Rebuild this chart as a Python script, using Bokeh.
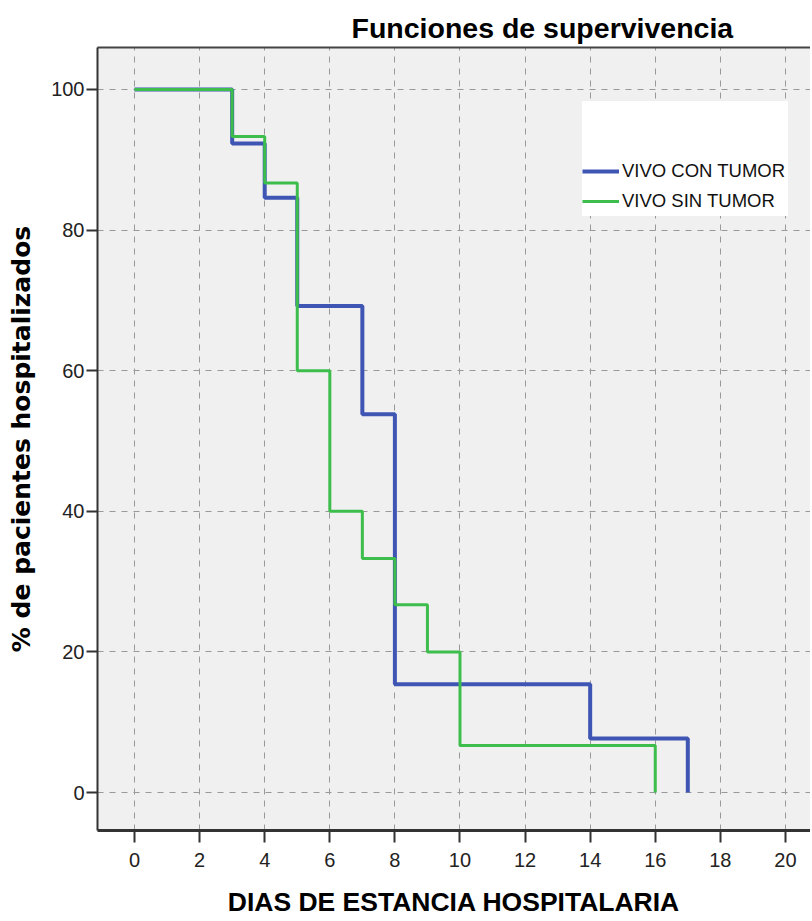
from bokeh.plotting import figure
from bokeh.models import FixedTicker, Legend, LegendItem, Range1d, LinearAxis
from bokeh.embed import file_html
from bokeh.resources import INLINE

# Kaplan-Meier estimates
dias_con = [0, 3, 4, 5, 7, 8, 14, 17]
surv_con = [100, 92.3, 84.6, 69.2, 53.8, 15.4, 7.7, 0]
dias_sin = [0, 3, 4, 5, 6, 7, 8, 9, 10, 16]
surv_sin = [100, 93.3, 86.7, 60, 40, 33.3, 26.7, 20, 6.7, 0]
x_ticks = [0, 2, 4, 6, 8, 10, 12, 14, 16, 18, 20]
y_ticks = [0, 20, 40, 60, 80, 100]
series_names = ["VIVO CON TUMOR", "VIVO SIN TUMOR"]

p = figure(width=810, height=919, output_backend="svg", toolbar_location=None,
           x_range=Range1d(-1.138, 20.77), y_range=Range1d(-5.40, 105.97),
           min_border_left=97, min_border_right=0, min_border_top=47, min_border_bottom=86)

p.background_fill_color = "#f0f0f0"
p.border_fill_color = "white"
p.outline_line_color = None

p.title.text = "Funciones de supervivencia"
p.title.text_font = "Liberation Sans"
p.title.text_font_style = "bold"
p.title.text_font_size = "28.5px"
p.title.align = "left"
p.title.offset = 254
p.title.standoff = 7
p.title.text_color = "black"

r_con = p.step(dias_con, surv_con, mode="after", line_color="#3f55b4", line_width=4)
r_sin = p.step(dias_sin, surv_sin, mode="after", line_color="#3dbe4c", line_width=3)

xb = p.below[0]
yl = p.left[0]

for ax, ticks in ((xb, x_ticks), (yl, y_ticks)):
    ax.ticker = FixedTicker(ticks=ticks)
    ax.major_tick_in = 0
    ax.minor_tick_line_color = None
    ax.major_tick_line_color = "#333333"
    ax.major_tick_line_width = 2
    ax.axis_line_color = "#333333"
    ax.major_label_text_font = "Liberation Sans"
    ax.major_label_text_font_size = "20px"
    ax.major_label_text_color = "#222222"
    ax.axis_label_text_font_style = "bold"
    ax.axis_label_text_color = "black"

xb.major_tick_out = 12
xb.axis_line_width = 3
xb.major_label_standoff = 10
xb.axis_label = "DIAS DE ESTANCIA HOSPITALARIA"
xb.axis_label_text_font = "Liberation Sans"
xb.axis_label_text_font_size = "26.5px"
xb.axis_label_text_line_height = 0.9
xb.axis_label_standoff = 17

yl.major_tick_out = 11
yl.axis_line_width = 2
yl.major_label_standoff = 2
yl.axis_label = "% de pacientes hospitalizados"
yl.axis_label_text_font = "DejaVu Sans"
yl.axis_label_text_font_size = "25px"
yl.axis_label_standoff = 12

# top frame line
top_axis = LinearAxis(ticker=FixedTicker(ticks=[]), major_label_text_font_size="0px",
                      axis_line_color="#444444", axis_line_width=2,
                      major_tick_out=0, major_tick_in=0,
                      major_tick_line_color=None, minor_tick_line_color=None)
p.add_layout(top_axis, "above")

p.xgrid.ticker = FixedTicker(ticks=x_ticks)
p.ygrid.ticker = FixedTicker(ticks=y_ticks)
for g in (p.xgrid[0], p.ygrid[0]):
    g.grid_line_color = "#999999"
    g.grid_line_dash = "6 6"
    g.grid_line_width = 1

legend = Legend(items=[LegendItem(label=series_names[0], renderers=[r_con]),
                       LegendItem(label=series_names[1], renderers=[r_sin])],
                location=(485, 614), title=" ", title_text_font_size="47px",
                title_standoff=0)
legend.background_fill_color = "white"
legend.background_fill_alpha = 1
legend.border_line_color = None
legend.glyph_width = 37
legend.glyph_height = 30
legend.label_height = 30
legend.label_text_font = "Liberation Sans"
legend.label_text_font_size = "18.5px"
legend.label_text_color = "#111111"
legend.label_standoff = 3
legend.spacing = 0
legend.padding = 6
legend.margin = 0
legend.label_width = 166
p.add_layout(legend)

open("out.html", "w").write(file_html(p, INLINE))
